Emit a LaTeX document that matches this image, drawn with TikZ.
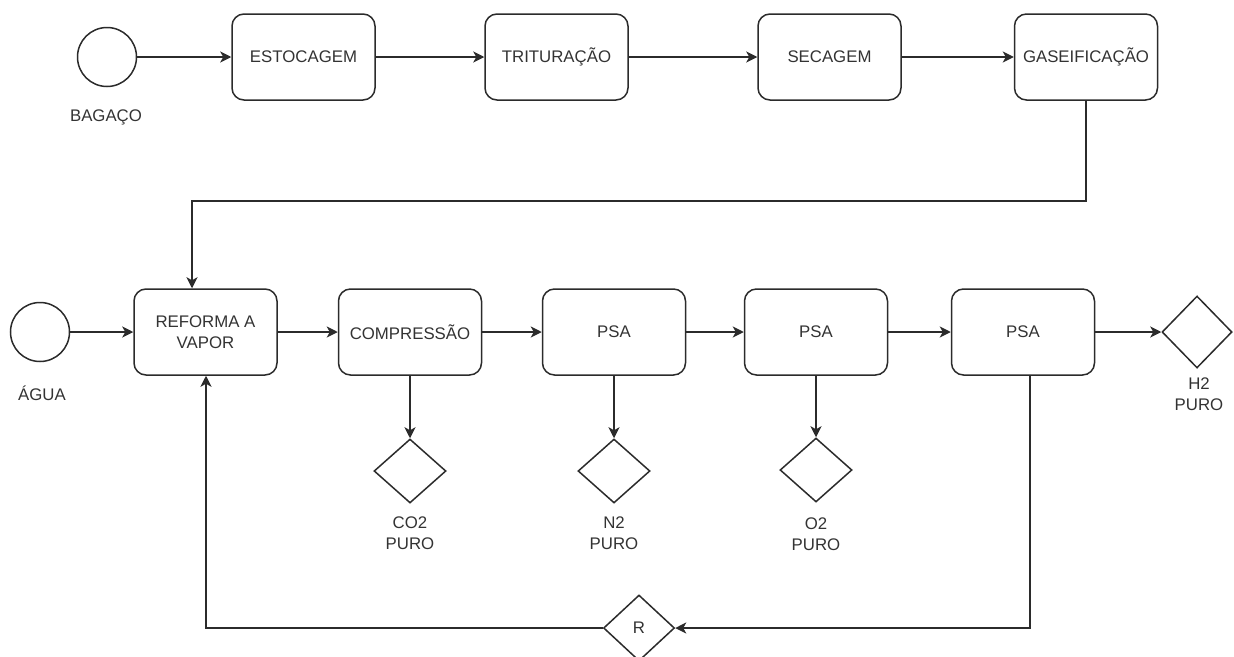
\documentclass[tikz,border=0pt]{standalone}
\usepackage{fontspec}
\setmainfont{Liberation Sans}
\usetikzlibrary{arrows.meta,shapes.geometric,calc}
\definecolor{ln}{HTML}{2B2B2B}
\definecolor{tx}{HTML}{333333}
\begin{document}
\begin{tikzpicture}[x=1pt,y=-1pt,
  every node/.style={font=\fontsize{16.8}{20.5}\selectfont, text=tx},
  proc/.style={draw=ln, line width=1.5pt, rectangle, rounded corners=12pt, minimum width=143pt, minimum height=86pt, inner sep=0pt, align=center},
  ev/.style={draw=ln, line width=1.5pt, circle, minimum size=59pt, inner sep=0pt},
  dia/.style={draw=ln, line width=1.5pt, diamond, minimum width=72pt, minimum height=64pt, inner sep=0pt},
  lbl/.style={align=center, inner sep=0pt},
  arr/.style={draw=ln, line width=1.5pt, -{Stealth[length=11pt,width=11pt,inset=3pt]}},
  ln/.style={draw=ln, line width=1.5pt}
]
\path[use as bounding box] (0,0) rectangle (1234,656);

% top row
\node[ev] (bag) at (107,57) {};
\node[lbl] (bagl) at (106,117) {BAGAÇO};
\node[proc] (est) at (303.5,57) {ESTOCAGEM};
\node[proc] (tri) at (556.5,57) {TRITURAÇÃO};
\node[proc] (sec) at (829.5,57) {SECAGEM};
\node[proc] (gas) at (1086,57) {GASEIFICAÇÃO};

% second row
\node[ev] (agua) at (40,332) {};
\node[lbl] (agual) at (42,393) {ÁGUA};
\node[proc] (ref) at (205.5,332) {REFORMA A\\VAPOR};
\node[proc] (comp) at (410,332) {COMPRESSÃO};
\node[proc] (psa1) at (614,332) {PSA};
\node[proc] (psa2) at (816,332) {PSA};
\node[proc] (psa3) at (1023,332) {PSA};
\node[dia, minimum width=70pt, minimum height=72pt] (h2) at (1197,332) {};
\node[lbl] (h2l) at (1199,394) {H2\\PURO};

% outputs
\node[dia] (co2) at (410,471) {};
\node[lbl] (co2l) at (410,533) {CO2\\PURO};
\node[dia] (n2) at (614,471) {};
\node[lbl] (n2l) at (614,533) {N2\\PURO};
\node[dia] (o2) at (816,470) {};
\node[lbl] (o2l) at (816,534) {O2\\PURO};
\node[dia, minimum width=71pt, minimum height=66pt] (r) at (639,628) {R};

% connectors
\draw[arr] (bag) -- (est);
\draw[arr] (est) -- (tri);
\draw[arr] (tri) -- (sec);
\draw[arr] (sec) -- (gas);
\coordinate (k1) at (1086,201);
\draw[arr] (gas.south) -- (k1) -| ([xshift=-13.5pt]ref.north);

\draw[arr] (agua) -- (ref);
\draw[arr] (ref) -- (comp);
\draw[arr] (comp) -- (psa1);
\draw[arr] (psa1) -- (psa2);
\draw[arr] (psa2) -- (psa3);
\draw[arr] (psa3) -- (h2);

\draw[arr] (comp.south) -- (co2.north);
\draw[arr] (psa1.south) -- (n2.north);
\draw[arr] (psa2.south) -- (o2.north);

\draw[arr] ([xshift=7pt]psa3.south) |- (r.east);
\draw[arr] (r.west) -| ([xshift=0.5pt]ref.south);
\end{tikzpicture}
\end{document}
